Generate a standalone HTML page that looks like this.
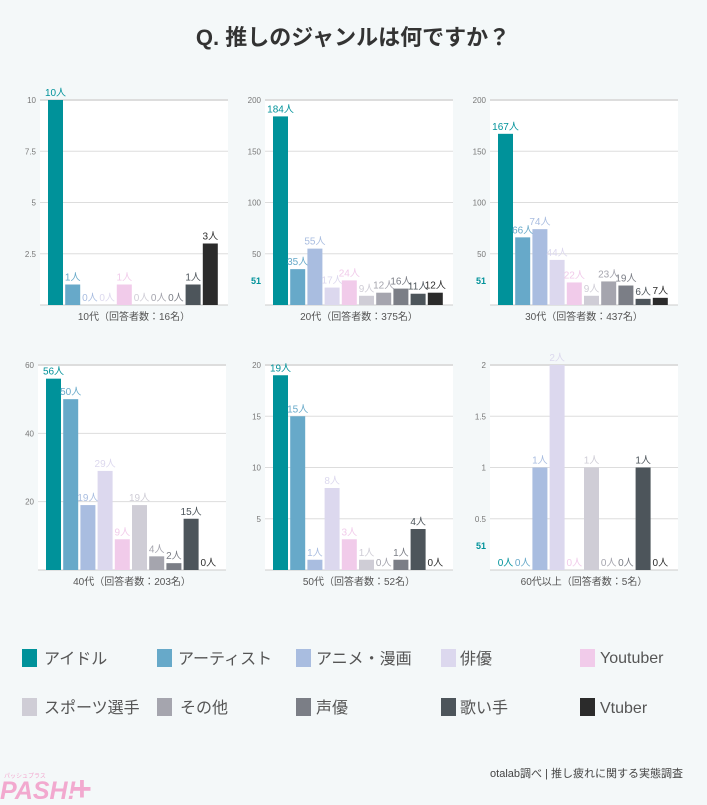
<!DOCTYPE html>
<html><head><meta charset="utf-8">
<style>
body{margin:0;background:#f4f8f9;width:707px;height:800px;overflow:hidden;font-family:"Liberation Sans","Noto Sans CJK JP",sans-serif;}
</style></head>
<body>
<svg id="s" width="707" height="800" xmlns="http://www.w3.org/2000/svg" font-family="Liberation Sans, Noto Sans CJK JP, sans-serif">
<text x="353" y="45" text-anchor="middle" font-size="22" font-weight="bold" fill="#333">Q. 推しのジャンルは何ですか？</text>
<g id="charts"></g>
<g font-size="16" fill="#555">
<rect x="22" y="649" width="15" height="18" fill="#00929a"/><text x="44" y="664">アイドル</text>
<rect x="157" y="649" width="15" height="18" fill="#67a9c9"/><text x="178" y="664">アーティスト</text>
<rect x="296" y="649" width="15" height="18" fill="#a9bde0"/><text x="316" y="664">アニメ・漫画</text>
<rect x="441" y="649" width="15" height="18" fill="#dcd8ee"/><text x="460" y="664">俳優</text>
<rect x="580" y="649" width="15" height="18" fill="#f1cbea"/><text x="600" y="663">Youtuber</text>
<rect x="22" y="698" width="15" height="18" fill="#cfcdd6"/><text x="44" y="713">スポーツ選手</text>
<rect x="157" y="698" width="15" height="18" fill="#a5a5ae"/><text x="180" y="713">その他</text>
<rect x="296" y="698" width="15" height="18" fill="#7b7e86"/><text x="316" y="713">声優</text>
<rect x="441" y="698" width="15" height="18" fill="#4d555b"/><text x="460" y="713">歌い手</text>
<rect x="580" y="698" width="15" height="18" fill="#2b2b2b"/><text x="600" y="713">Vtuber</text>
</g>
<text x="683" y="777" text-anchor="end" font-size="11" fill="#444">otalab調べ | 推し疲れに関する実態調査</text>
<text x="0" y="799" font-size="25" font-weight="bold" font-style="italic" fill="#f2a9cf">PASH!</text>
<text x="4" y="778" font-size="6" fill="#f2a9cf">パッシュプラス</text>
<text x="72" y="800" font-size="34" font-weight="bold" fill="#f2a9cf">+</text>
</svg>
<script>
const cols=["#00929a","#67a9c9","#a9bde0","#dcd8ee","#f1cbea","#cfcdd6","#a5a5ae","#7b7e86","#4d555b","#2b2b2b"];
const charts=[
 {x:40,y:100,max:10,ticks:[10,7.5,5,2.5],d:[10,1,0,0,1,0,0,0,1,3],cap:"10代（回答者数：16名）"},
 {x:265,y:100,max:200,ticks:[200,150,100,50],d:[184,35,55,17,24,9,12,16,11,12],cap:"20代（回答者数：375名）",stray:1},
 {x:490,y:100,max:200,ticks:[200,150,100,50],d:[167,66,74,44,22,9,23,19,6,7],cap:"30代（回答者数：437名）",stray:1},
 {x:38,y:365,max:60,ticks:[60,40,20],d:[56,50,19,29,9,19,4,2,15,0],cap:"40代（回答者数：203名）"},
 {x:265,y:365,max:20,ticks:[20,15,10,5],d:[19,15,1,8,3,1,0,1,4,0],cap:"50代（回答者数：52名）"},
 {x:490,y:365,max:2,ticks:[2,1.5,1,0.5],d:[0,0,1,2,0,1,0,0,1,0],cap:"60代以上（回答者数：5名）",stray:1}
];
let h="";
for(const c of charts){
 const W=188,H=205,b=c.y+H;
 h+=`<rect x="${c.x}" y="${c.y}" width="${W}" height="${H}" fill="#fff"/>`;
 h+=`<line x1="${c.x}" y1="${c.y}" x2="${c.x+W}" y2="${c.y}" stroke="#ddd" stroke-width="2"/>`;
 for(const t of c.ticks){const y=b-t/c.max*H;
  h+=`<line x1="${c.x}" y1="${y}" x2="${c.x+W}" y2="${y}" stroke="#ddd"/>`;
  h+=`<text x="${c.x-4}" y="${y+3}" font-size="8" fill="#777" text-anchor="end">${t}</text>`;}
 h+=`<line x1="${c.x}" y1="${b}" x2="${c.x+W}" y2="${b}" stroke="#ccc"/>`;
 c.d.forEach((v,i)=>{const bx=c.x+8+i*17.2,bh=v/c.max*H;
  h+=`<rect x="${bx}" y="${b-bh}" width="15" height="${bh}" fill="${cols[i]}"/>`;
  h+=`<text x="${bx+7.5}" y="${b-bh-4}" font-size="10" fill="${cols[i]}" text-anchor="middle">${v}人</text>`;});
 if(c.stray)h+=`<text x="${c.x-14}" y="${b-21}" font-size="9" font-weight="bold" fill="#00929a">51</text>`;
 h+=`<text x="${c.x+W/2}" y="${b+15}" font-size="10" fill="#555" text-anchor="middle">${c.cap}</text>`;
}
document.getElementById("charts").innerHTML=h;
</script>
</body></html>
